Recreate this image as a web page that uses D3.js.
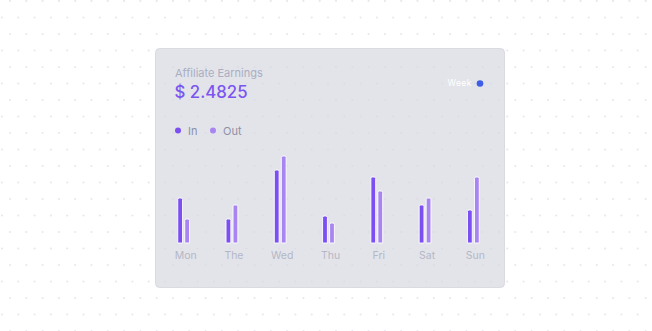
<!DOCTYPE html>
<html>
<head>
<meta charset="utf-8">
<script src="https://cdn.jsdelivr.net/npm/d3@7"></script>
<style>
  html, body { margin: 0; padding: 0; background: #ffffff; }
  svg { display: block; font-family: "Inter", "Noto Sans", sans-serif; }
</style>
</head>
<body>
<svg id="chart" width="652" height="331"></svg>
<script>
// Weekly affiliate earnings, two series per day
const days = ["Mon", "The", "Wed", "Thu", "Fri", "Sat", "Sun"];
const inValues = [45, 24, 73, 27, 66, 38, 33];
const outValues = [24, 38, 87, 20, 52, 45, 66];
const seriesNames = ["In", "Out"];
const seriesColors = ["#7b4ff2", "#a985f2"];
const titleText = "Affiliate Earnings";
const totalText = "$ 2.4825";
const periodText = "Week";

const svg = d3.select("#chart");
const W = 652, H = 331;

// dotted page background (staggered rows)
const bg = svg.append("g");
const stepX = 16.3, stepY = 16.5;
for (let r = 0; r * stepY < H + stepY; r++) {
  const off = r % 2 === 0 ? 10 : 2;
  for (let c = 0; off + c * stepX < W + stepX; c++) {
    bg.append("circle")
      .attr("cx", off + c * stepX)
      .attr("cy", 1 + r * stepY)
      .attr("r", 1.1)
      .attr("fill", "#e8e8ee");
  }
}

// card
const card = { x: 155.5, y: 48.5, w: 349, h: 239 };
svg.append("rect")
  .attr("x", card.x).attr("y", card.y)
  .attr("width", card.w).attr("height", card.h)
  .attr("rx", 4)
  .attr("fill", "#e3e4ea")
  .attr("stroke", "#d9dae2")
  .attr("stroke-width", 1);

// faint dots inside the card
const cardDots = svg.append("g");
for (let r = 0; r * stepY < H + stepY; r++) {
  const off = r % 2 === 0 ? 10 : 2;
  const cy = 1 + r * stepY;
  if (cy < card.y + 3 || cy > card.y + card.h - 3) continue;
  for (let c = 0; off + c * stepX < W; c++) {
    const cx = off + c * stepX;
    if (cx < card.x + 3 || cx > card.x + card.w - 3) continue;
    cardDots.append("circle")
      .attr("cx", cx).attr("cy", cy).attr("r", 1.1)
      .attr("fill", "#dcdde4");
  }
}

// header
svg.append("text")
  .attr("x", 175).attr("y", 77)
  .attr("font-size", 11)
  .attr("fill", "#a9aec2")
  .text(titleText);

svg.append("text")
  .attr("x", 174.5).attr("y", 98)
  .attr("font-size", 16.8)
  .attr("font-weight", 500)
  .attr("fill", "#7b55f0")
  .text(totalText);

// period selector
svg.append("text")
  .attr("x", 472).attr("y", 86)
  .attr("text-anchor", "end")
  .attr("font-size", 8.5)
  .attr("letter-spacing", 0.5)
  .attr("fill", "#ffffff")
  .text(periodText);
svg.append("circle")
  .attr("cx", 480).attr("cy", 83.5).attr("r", 3.3)
  .attr("fill", "#3f5ee8");

// legend
const legend = svg.append("g");
const legendX = [178, 213];
seriesNames.forEach((name, i) => {
  legend.append("circle")
    .attr("cx", legendX[i]).attr("cy", 130.5).attr("r", 3)
    .attr("fill", seriesColors[i]);
  legend.append("text")
    .attr("x", legendX[i] + 10).attr("y", 134.5)
    .attr("font-size", 11)
    .attr("fill", "#8d91a6")
    .text(name);
});

// scales
const x = d3.scaleBand().domain(days).range([160, 498]);
const y = d3.scaleLinear().domain([0, 100]).range([243, 143]);
const barW = 4.8, gap = 2.2;

const data = days.map((d, i) => ({ day: d, values: [inValues[i], outValues[i]] }));

const groups = svg.append("g").selectAll("g")
  .data(data).join("g")
  .attr("transform", d => `translate(${x(d.day) + x.bandwidth() / 2},0)`);

groups.selectAll("path")
  .data(d => d.values.map((v, i) => ({ v, i })))
  .join("path")
  .attr("d", d => {
    const x0 = d.i === 0 ? -(gap / 2 + barW) - 0.5 : gap / 2 - 0.5;
    const top = y(d.v), bot = y(0), r = 1.5;
    return `M${x0},${bot} V${top + r} Q${x0},${top} ${x0 + r},${top} H${x0 + barW - r} Q${x0 + barW},${top} ${x0 + barW},${top + r} V${bot} Z`;
  })
  .attr("fill", d => seriesColors[d.i])
  .attr("stroke", "#ffffff")
  .attr("stroke-width", 0.9);

// day axis
const axis = svg.append("g")
  .call(d3.axisBottom(x).tickSize(0).tickPadding(0))
  .attr("transform", "translate(1.5,259)");
axis.select(".domain").remove();
axis.selectAll("text")
  .attr("font-size", 10.5)
  .attr("font-family", "Inter, 'Noto Sans', sans-serif")
  .attr("fill", "#b4b7c6")
  .attr("dy", 0);
</script>
</body>
</html>
